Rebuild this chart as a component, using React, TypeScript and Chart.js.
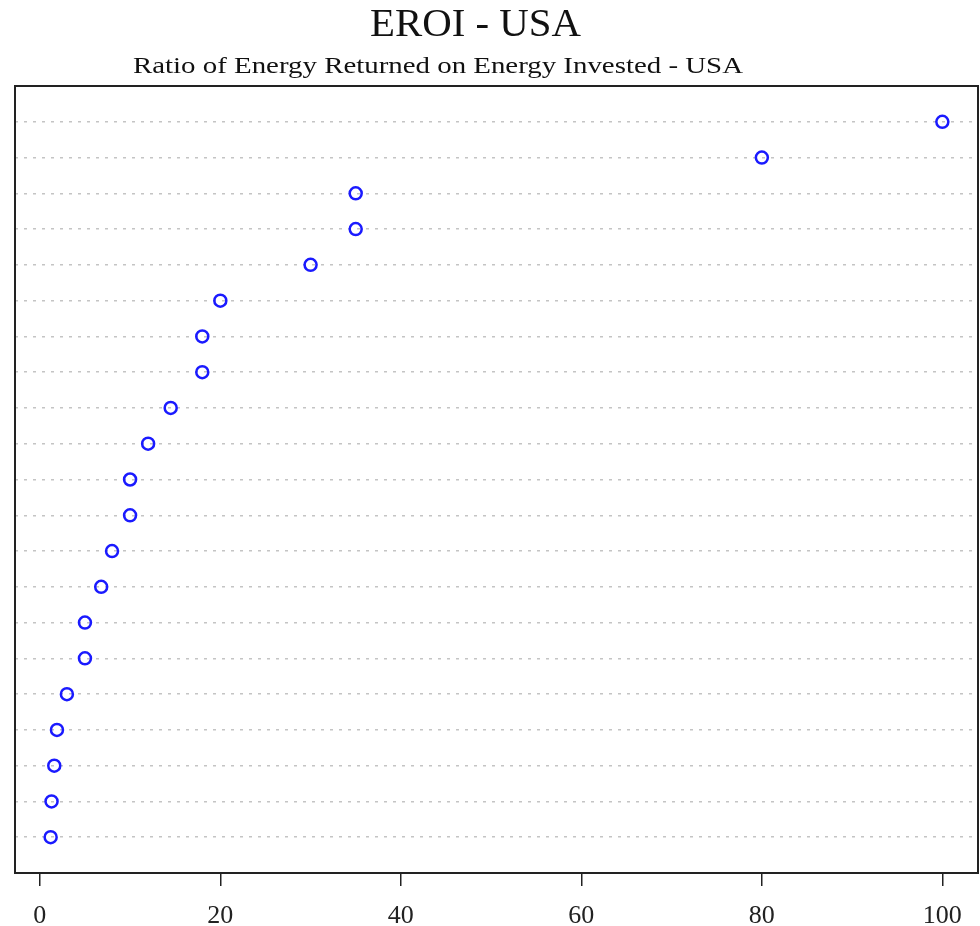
import React, { useEffect, useRef } from "react";
import { Chart, registerables } from "chart.js";

Chart.register(...registerables);

// Rows from bottom (1) to top (21)
const eroiValues = [1.2, 1.3, 1.6, 1.9, 3.0, 5.0, 5.0, 6.8, 8.0, 10, 10, 12, 14.5, 18, 18, 20, 30, 35, 35, 80, 100];
const rowLabels = eroiValues.map((_, i) => `Row ${i + 1}`);
const xTicks = [0, 20, 40, 60, 80, 100];
const titleText = "EROI - USA";
const subtitleText = "Ratio of Energy Returned on Energy Invested - USA";

function drawStretched(ctx: CanvasRenderingContext2D, text: string, font: string, cx: number, baseline: number, targetWidth: number) {
  ctx.save();
  ctx.font = font;
  const w = ctx.measureText(text).width;
  const sx = targetWidth / w;
  ctx.translate(cx, baseline);
  ctx.scale(sx, 1);
  ctx.textAlign = "center";
  ctx.textBaseline = "alphabetic";
  ctx.fillText(text, 0, 0);
  ctx.restore();
}

const titlePlugin = {
  id: "rTitles",
  afterDraw(chart: any) {
    const ctx = chart.ctx;
    const area = chart.chartArea;
    ctx.save();
    ctx.fillStyle = "#111";
    drawStretched(ctx, titleText, "39px 'Liberation Serif'", 475.5, 36, 211);
    drawStretched(ctx, subtitleText, "24px 'Liberation Serif'", 438, 73, 610);
    // box
    ctx.strokeStyle = "#222";
    ctx.lineWidth = 2;
    ctx.strokeRect(area.left, area.top, area.right - area.left, area.bottom - area.top);
    ctx.restore();
  },
};

export default function App() {
  const ref = useRef<HTMLCanvasElement>(null);
  useEffect(() => {
    document.body.style.margin = "0";
    const data = eroiValues.map((v, i) => ({ x: v, y: i + 1 }));
    const chart = new Chart(ref.current!, {
      type: "scatter",
      data: {
        labels: rowLabels,
        datasets: [
          {
            data,
            pointStyle: "circle",
            pointRadius: 6,
            pointBorderWidth: 2.5,
            pointBorderColor: "#1a1aff",
            pointBackgroundColor: "rgba(0,0,0,0)",
            clip: false as any,
          },
        ],
      },
      options: {
        responsive: false,
        animation: false,
        layout: { autoPadding: false, padding: { left: 15, right: 2, top: 86, bottom: 0 } },
        plugins: { legend: { display: false }, tooltip: { enabled: false }, title: { display: false } },
        scales: {
          x: {
            type: "linear",
            min: -2.75,
            max: 103.95,
            afterBuildTicks: (s: any) => {
              s.ticks = xTicks.map((v) => ({ value: v }));
            },
            afterFit: (s: any) => {
              s.height = 53;
              s.paddingLeft = 0;
              s.paddingRight = 0;
            },
            border: { display: false },
            grid: { drawOnChartArea: false, drawTicks: true, tickLength: 13, color: "#222", lineWidth: 1.5 },
            ticks: { color: "#222", font: { family: "'Liberation Serif'", size: 26 }, padding: 15 },
          },
          y: {
            type: "linear",
            min: 0,
            max: 22,
            afterBuildTicks: (s: any) => {
              s.ticks = eroiValues.map((_, i) => ({ value: i + 1 }));
            },
            afterFit: (s: any) => {
              s.width = 0;
              s.paddingTop = 0;
              s.paddingBottom = 0;
            },
            border: { display: false, dash: [3, 6] },
            ticks: { display: false },
            grid: { drawTicks: false, color: "#c4c4c4", lineWidth: 1.5 },
          },
        },
      },
      plugins: [titlePlugin],
    });
    return () => chart.destroy();
  }, []);
  return (
    <div style={{ width: 980, height: 926 }}>
      <canvas ref={ref} width={980} height={926} />
    </div>
  );
}
